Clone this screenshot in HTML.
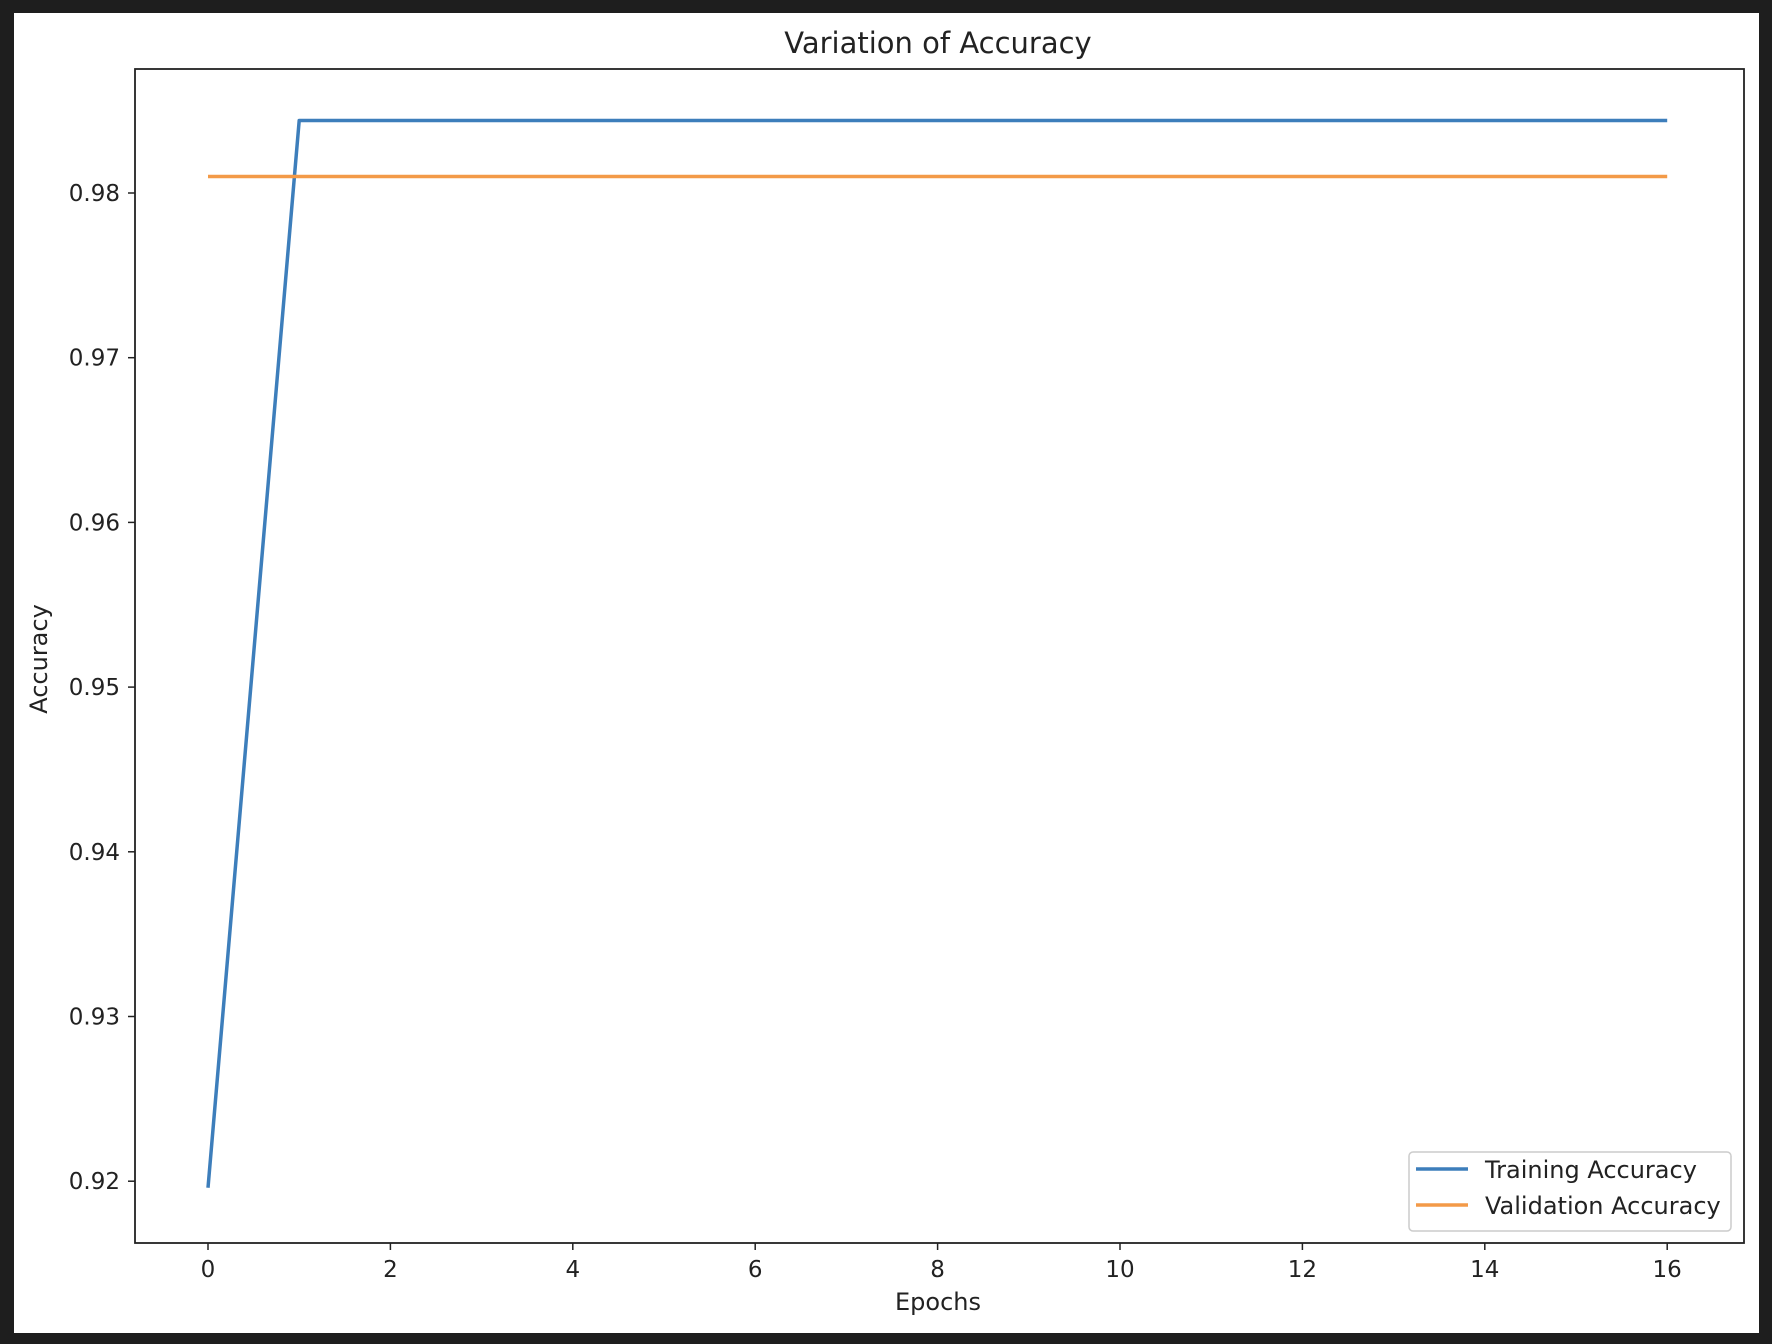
<!DOCTYPE html>
<html><head><meta charset="utf-8"><style>
html,body{margin:0;padding:0;background:#1e1e1e;}
svg{display:block;}
text{font-family:"DejaVu Sans","Liberation Sans",sans-serif;fill:#222;}
</style></head><body>
<svg width="1772" height="1344">
<rect x="14" y="13" width="1745" height="1320" fill="#fff"/>
<text x="938" y="53" font-size="29" text-anchor="middle">Variation of Accuracy</text>
<g id="plot"></g>
<rect x="135" y="69" width="1609" height="1174" fill="none" stroke="#222" stroke-width="1.8"/>
<text x="938" y="1310" font-size="24" text-anchor="middle">Epochs</text>
<text transform="translate(47,659) rotate(-90)" font-size="24" text-anchor="middle">Accuracy</text>
<g>
<rect x="1409" y="1152" width="322" height="79" rx="4" fill="#fff" stroke="#ccc" stroke-width="1.5"/>
<line x1="1416" y1="1169" x2="1468" y2="1169" stroke="#3d7ebb" stroke-width="3.5"/>
<text x="1485" y="1178" font-size="24">Training Accuracy</text>
<line x1="1416" y1="1205" x2="1468" y2="1205" stroke="#f39a48" stroke-width="3.5"/>
<text x="1485" y="1214" font-size="24">Validation Accuracy</text>
</g>
</svg>
<script>
const epochs = [0,1,2,3,4,5,6,7,8,9,10,11,12,13,14,15,16];
const trainAcc = [0.9196,0.9844,0.9844,0.9844,0.9844,0.9844,0.9844,0.9844,0.9844,0.9844,0.9844,0.9844,0.9844,0.9844,0.9844,0.9844,0.9844];
const valAcc = [0.9810,0.9810,0.9810,0.9810,0.9810,0.9810,0.9810,0.9810,0.9810,0.9810,0.9810,0.9810,0.9810,0.9810,0.9810,0.9810,0.9810];
const xTicks = [0,2,4,6,8,10,12,14,16];
const yTicks = [0.92,0.93,0.94,0.95,0.96,0.97,0.98];
const yTickLabels = ["0.92","0.93","0.94","0.95","0.96","0.97","0.98"];

const NS = "http://www.w3.org/2000/svg";
function xs(v){ return 208 + v*91.2; }
function ys(v){ return 193 + (0.98 - v)/0.01*164.7; }
const g = document.getElementById('plot');
function mk(tag, attrs){ const e=document.createElementNS(NS,tag); for(const k in attrs) e.setAttribute(k,attrs[k]); g.appendChild(e); return e; }

xTicks.forEach(t=>{
  const l = mk('line',{x1:xs(t),x2:xs(t),y1:1243,y2:1250,stroke:'#222','stroke-width':1.5});
  
  
  const tx = mk('text',{x:xs(t),y:1277,'font-size':23,'text-anchor':'middle'});
  tx.textContent = String(t);
  
  
});
yTicks.forEach((t,i)=>{
  const l = mk('line',{x1:128,x2:135,y1:ys(t),y2:ys(t),stroke:'#222','stroke-width':1.5});
  
  
  const tx = mk('text',{x:120,y:ys(t)+8,'font-size':23,'text-anchor':'end'});
  tx.textContent = yTickLabels[i];
  
  
});
function line(vals,color,name){
  const p = mk('polyline',{points:vals.map((v,i)=>xs(epochs[i])+','+ys(v)).join(' '),fill:'none',stroke:color,'stroke-width':3.5,'stroke-linejoin':'round'});
  
  
}
line(trainAcc,'#3d7ebb','training-accuracy-line');
line(valAcc,'#f39a48','validation-accuracy-line');
</script>
</body></html>
